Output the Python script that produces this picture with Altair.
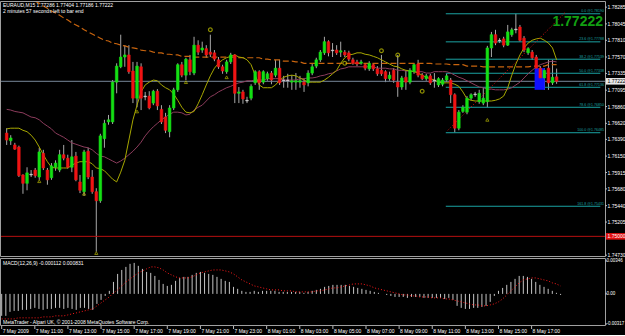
import altair as alt
import pandas as pd

# ---------------- data (EURAUD M15, 7 May 09:00 .. 8 May 18:45) ----------------
opens = [1.7648, 1.7637, 1.7631, 1.7628, 1.7588, 1.7576, 1.7588, 1.7595, 1.7585, 1.7619,
         1.7595, 1.7584, 1.7599, 1.7595, 1.7617, 1.7612, 1.7599, 1.7615, 1.7578, 1.7564,
         1.7622, 1.7585, 1.7564, 1.7551, 1.7640, 1.7664, 1.7664, 1.7721, 1.7743, 1.7757,
         1.7760, 1.7737, 1.7698, 1.7743, 1.7700, 1.7701, 1.7691, 1.7708, 1.7682, 1.7671,
         1.7650, 1.7684, 1.7710, 1.7746, 1.7731, 1.7753, 1.7734, 1.7774, 1.7767, 1.7769,
         1.7764, 1.7763, 1.7753, 1.7743, 1.7736, 1.7750, 1.7760, 1.7705, 1.7707, 1.7694,
         1.7698, 1.7720, 1.7736, 1.7721, 1.7726, 1.7734, 1.7731, 1.7741, 1.7723, 1.7723,
         1.7721, 1.7721, 1.7721, 1.7721, 1.7720, 1.7734, 1.7744, 1.7753, 1.7763, 1.7779,
         1.7766, 1.7767, 1.7764, 1.7764, 1.7763, 1.7753, 1.7750, 1.7748, 1.7746, 1.7740,
         1.7746, 1.7740, 1.7738, 1.7736, 1.7726, 1.7738, 1.7721, 1.7714, 1.7728, 1.7721,
         1.7736, 1.7747, 1.7731, 1.7726, 1.7730, 1.7723, 1.7717, 1.7718, 1.7724, 1.7724,
         1.7703, 1.7655, 1.7679, 1.7678, 1.7698, 1.7703, 1.7693, 1.7691, 1.7693, 1.7770,
         1.7789, 1.7780, 1.7783, 1.7774, 1.7789, 1.7796, 1.7800, 1.7784, 1.7763, 1.7764,
         1.7757, 1.7741, 1.7727, 1.7741, 1.7720, 1.77286]
highs = [1.7655, 1.7645, 1.7634, 1.7630, 1.7589, 1.7599, 1.7595, 1.7598, 1.7627, 1.7624,
         1.7598, 1.7605, 1.7609, 1.7624, 1.7631, 1.7617, 1.7638, 1.7621, 1.7588, 1.7624,
         1.7627, 1.7595, 1.7569, 1.7647, 1.7667, 1.7674, 1.7724, 1.7748, 1.7789, 1.7774,
         1.7774, 1.7750, 1.7750, 1.7748, 1.7707, 1.7708, 1.7710, 1.7711, 1.7688, 1.7677,
         1.7688, 1.7713, 1.7748, 1.7750, 1.7756, 1.7760, 1.7786, 1.7781, 1.7779, 1.7774,
         1.7789, 1.7767, 1.7757, 1.7746, 1.7753, 1.7763, 1.7761, 1.7714, 1.7710, 1.7700,
         1.7718, 1.7738, 1.7738, 1.7738, 1.7736, 1.7737, 1.7753, 1.7753, 1.7730, 1.7733,
         1.7731, 1.7734, 1.7730, 1.7727, 1.7738, 1.7747, 1.7756, 1.7767, 1.7786, 1.7781,
         1.7777, 1.7774, 1.7779, 1.7767, 1.7766, 1.7756, 1.7753, 1.7753, 1.7748, 1.7751,
         1.7748, 1.7744, 1.7760, 1.7738, 1.7736, 1.7741, 1.7760, 1.7730, 1.7738, 1.7741,
         1.7748, 1.7753, 1.7734, 1.7733, 1.7733, 1.7734, 1.7728, 1.7727, 1.7733, 1.7727,
         1.7705, 1.7681, 1.7688, 1.7701, 1.7705, 1.7707, 1.7710, 1.7714, 1.7773, 1.7793,
         1.7796, 1.7784, 1.7786, 1.7803, 1.7799, 1.7819, 1.7803, 1.7787, 1.7771, 1.7767,
         1.7760, 1.7744, 1.7741, 1.7753, 1.7753, 1.77404]
lows = [1.7631, 1.7631, 1.7624, 1.7585, 1.7561, 1.7566, 1.7585, 1.7584, 1.7581, 1.7595,
        1.7574, 1.7581, 1.7594, 1.7592, 1.7609, 1.7597, 1.7592, 1.7579, 1.7562, 1.7558,
        1.7582, 1.7561, 1.7478, 1.7548, 1.7627, 1.7660, 1.7661, 1.7705, 1.7741, 1.7743,
        1.7733, 1.7691, 1.7685, 1.7681, 1.7695, 1.7682, 1.7688, 1.7681, 1.7661, 1.7648,
        1.7642, 1.7681, 1.7707, 1.7728, 1.7724, 1.7731, 1.7731, 1.7760, 1.7763, 1.7756,
        1.7757, 1.7751, 1.7740, 1.7733, 1.7733, 1.7747, 1.7691, 1.7691, 1.7690, 1.7691,
        1.7695, 1.7717, 1.7710, 1.7718, 1.7723, 1.7718, 1.7728, 1.7717, 1.7713, 1.7713,
        1.7710, 1.7710, 1.7713, 1.7707, 1.7715, 1.7731, 1.7741, 1.7750, 1.7760, 1.7758,
        1.7757, 1.7760, 1.7757, 1.7757, 1.7751, 1.7746, 1.7744, 1.7746, 1.7738, 1.7737,
        1.7737, 1.7730, 1.7730, 1.7721, 1.7723, 1.7720, 1.7700, 1.7710, 1.7710, 1.7718,
        1.7733, 1.7728, 1.7724, 1.7723, 1.7717, 1.7713, 1.7714, 1.7715, 1.7721, 1.7691,
        1.7649, 1.7652, 1.7677, 1.7675, 1.7695, 1.7700, 1.7690, 1.7688, 1.7685, 1.7757,
        1.7774, 1.7777, 1.7771, 1.7773, 1.7786, 1.7791, 1.7779, 1.7764, 1.7760, 1.7753,
        1.7738, 1.7717, 1.7710, 1.7710, 1.7717, 1.77186]
closes = [1.7638, 1.7641, 1.7625, 1.7587, 1.7576, 1.7591, 1.7589, 1.7587, 1.7621, 1.7598,
          1.7581, 1.7601, 1.7605, 1.7617, 1.7612, 1.7599, 1.7614, 1.7581, 1.7566, 1.7621,
          1.7585, 1.7564, 1.7551, 1.7644, 1.7662, 1.7667, 1.7721, 1.7744, 1.7757, 1.7760,
          1.7736, 1.7698, 1.7744, 1.7698, 1.7701, 1.7684, 1.7708, 1.7687, 1.7664, 1.7652,
          1.7684, 1.7710, 1.7746, 1.7731, 1.7754, 1.7736, 1.7774, 1.7764, 1.7770, 1.7760,
          1.7761, 1.7754, 1.7743, 1.7737, 1.7750, 1.7760, 1.7705, 1.7707, 1.7697, 1.7695,
          1.7715, 1.7736, 1.7720, 1.7736, 1.7733, 1.7724, 1.7741, 1.7720, 1.7724, 1.7724,
          1.7723, 1.7723, 1.7723, 1.7717, 1.7734, 1.7743, 1.7753, 1.7764, 1.7779, 1.7763,
          1.7767, 1.7763, 1.7766, 1.7760, 1.7754, 1.7748, 1.7747, 1.7750, 1.7741, 1.7748,
          1.7740, 1.7733, 1.7733, 1.7726, 1.7731, 1.7724, 1.7714, 1.7727, 1.7721, 1.7738,
          1.7746, 1.7731, 1.7726, 1.7730, 1.7720, 1.7724, 1.7726, 1.7724, 1.7730, 1.7703,
          1.7655, 1.7678, 1.7685, 1.7698, 1.7703, 1.7704, 1.7705, 1.7698, 1.7770, 1.7789,
          1.7777, 1.7781, 1.7774, 1.7793, 1.7796, 1.7797, 1.7781, 1.7767, 1.7769, 1.7756,
          1.7741, 1.7727, 1.7738, 1.7720, 1.7728, 1.77222]

ma_fast = [1.7654, 1.7655, 1.7655, 1.7655, 1.7652, 1.7650, 1.7645, 1.7638, 1.7628, 1.7617,
           1.7607, 1.7599, 1.7598, 1.7598, 1.7598, 1.7598, 1.7602, 1.7605, 1.7607, 1.7607,
           1.7607, 1.7604, 1.7598, 1.7597, 1.7594, 1.7588, 1.7582, 1.7578, 1.7592, 1.7609,
           1.7638, 1.7667, 1.7688, 1.7707, 1.7717, 1.7721, 1.7724, 1.7723, 1.7717, 1.7713,
           1.7710, 1.7704, 1.7695, 1.7685, 1.7678, 1.7677, 1.7679, 1.7690, 1.7703, 1.7717,
           1.7730, 1.7741, 1.7748, 1.7753, 1.7756, 1.7758, 1.7760, 1.7757, 1.7756, 1.7753,
           1.7746, 1.7731, 1.7717, 1.7713, 1.7713, 1.7713, 1.7717, 1.7724, 1.7728, 1.7730,
           1.7731, 1.7730, 1.7727, 1.7724, 1.7721, 1.7721, 1.7721, 1.7721, 1.7724, 1.7728,
           1.7733, 1.7738, 1.7748, 1.7756, 1.7760, 1.7761, 1.7763, 1.7763, 1.7761, 1.7760,
           1.7758, 1.7756, 1.7753, 1.7750, 1.7747, 1.7744, 1.7743, 1.7740, 1.7738, 1.7737,
           1.7736, 1.7734, 1.7731, 1.7728, 1.7726, 1.7724, 1.7721, 1.7720, 1.7720, 1.7720,
           1.7718, 1.7715, 1.7707, 1.7697, 1.7695, 1.7694, 1.7694, 1.7694, 1.7694, 1.7694,
           1.7695, 1.7697, 1.7701, 1.7713, 1.7731, 1.7747, 1.7760, 1.7770, 1.7777, 1.7781,
           1.7783, 1.7784, 1.7781, 1.7777, 1.7770, 1.7753]
ma_mid = [1.7682, 1.7681, 1.7679, 1.7678, 1.7677, 1.7674, 1.7671, 1.7670, 1.7667, 1.7662,
          1.7658, 1.7654, 1.7648, 1.7645, 1.7642, 1.7638, 1.7634, 1.7632, 1.7630, 1.7628,
          1.7627, 1.7624, 1.7619, 1.7615, 1.7614, 1.7611, 1.7608, 1.7605, 1.7608, 1.7612,
          1.7617, 1.7622, 1.7628, 1.7635, 1.7644, 1.7651, 1.7657, 1.7662, 1.7667, 1.7671,
          1.7675, 1.7678, 1.7678, 1.7677, 1.7674, 1.7675, 1.7681, 1.7685, 1.7688, 1.7694,
          1.7700, 1.7703, 1.7707, 1.7710, 1.7713, 1.7715, 1.7718, 1.7720, 1.7721, 1.7723,
          1.7723, 1.7724, 1.7724, 1.7724, 1.7726, 1.7726, 1.7726, 1.7726, 1.7724, 1.7724,
          1.7724, 1.7724, 1.7726, 1.7726, 1.7727, 1.7727, 1.7728, 1.7730, 1.7731, 1.7733,
          1.7734, 1.7737, 1.7740, 1.7741, 1.7743, 1.7743, 1.7743, 1.7743, 1.7743, 1.7743,
          1.7743, 1.7741, 1.7741, 1.7741, 1.7740, 1.7740, 1.7738, 1.7738, 1.7737, 1.7737,
          1.7736, 1.7736, 1.7736, 1.7734, 1.7734, 1.7736, 1.7736, 1.7736, 1.7736, 1.7734,
          1.7731, 1.7728, 1.7726, 1.7723, 1.7720, 1.7717, 1.7714, 1.7713, 1.7711, 1.7711,
          1.7710, 1.7710, 1.7710, 1.7711, 1.7713, 1.7717, 1.7721, 1.7727, 1.7733, 1.7738,
          1.7743, 1.7746, 1.7748, 1.7750, 1.7751, 1.7750]
ma_slow_first_bar = 7
ma_slow = [1.7837, 1.7834, 1.7830, 1.7827, 1.7823, 1.7820, 1.7817, 1.7813, 1.7810, 1.7806,
           1.7803, 1.7800, 1.7796, 1.7793, 1.7790, 1.7787, 1.7784, 1.7781, 1.7780, 1.7777,
           1.7776, 1.7774, 1.7773, 1.7771, 1.7770, 1.7769, 1.7767, 1.7766, 1.7766, 1.7764,
           1.7763, 1.7763, 1.7761, 1.7761, 1.7760, 1.7760, 1.7758, 1.7758, 1.7758, 1.7757,
           1.7757, 1.7757, 1.7757, 1.7757, 1.7757, 1.7757, 1.7757, 1.7757, 1.7757, 1.7757,
           1.7756, 1.7756, 1.7756, 1.7756, 1.7756, 1.7756, 1.7754, 1.7754, 1.7753, 1.7753,
           1.7753, 1.7751, 1.7751, 1.7751, 1.7750, 1.7750, 1.7748, 1.7748, 1.7748, 1.7748,
           1.7748, 1.7748, 1.7748, 1.7748, 1.7748, 1.7748, 1.7748, 1.7748, 1.7748, 1.7748,
           1.7748, 1.7748, 1.7748, 1.7748, 1.7748, 1.7748, 1.7748, 1.7748, 1.7748, 1.7748,
           1.7748, 1.7748, 1.7748, 1.7748, 1.7748, 1.7748, 1.7748, 1.7748, 1.7747, 1.7747,
           1.7747, 1.7747, 1.7746, 1.7746, 1.7746, 1.7746, 1.7744, 1.7744, 1.7744, 1.7744,
           1.7743, 1.7743, 1.7743, 1.7743, 1.7743, 1.7743, 1.7743, 1.7743, 1.7743, 1.7743,
           1.7743, 1.7743, 1.7744, 1.7744, 1.7744, 1.7744, 1.7746, 1.7746, 1.7746]

macd_main = [-0.00231, -0.00231, -0.00189, -0.00179, -0.00179, -0.00168, -0.00168, -0.00158, -0.00147, -0.00158,
             -0.00168, -0.00158, -0.00158, -0.00147, -0.00147, -0.00158, -0.00147, -0.00158, -0.00168, -0.00147,
             -0.00147, -0.00158, -0.00168, -0.00105, -0.00063, -0.00021, 0.00032, 0.00126, 0.00210, 0.00252,
             0.00284, 0.00316, 0.00326, 0.00295, 0.00263, 0.00231, 0.00221, 0.00189, 0.00147, 0.00105,
             0.00084, 0.00095, 0.00137, 0.00168, 0.00179, 0.00179, 0.00200, 0.00221, 0.00231, 0.00221,
             0.00210, 0.00200, 0.00179, 0.00158, 0.00137, 0.00126, 0.00074, 0.00053, 0.00032, 0.00021,
             0.00021, 0.00032, 0.00021, 0.00032, 0.00032, 0.00032, 0.00032, 0.00021, 0.00021, 0.00021,
             0.00021, 0.00021, 0.00021, 0.00011, 0.00021, 0.00032, 0.00042, 0.00053, 0.00074, 0.00084,
             0.00095, 0.00095, 0.00095, 0.00095, 0.00084, 0.00074, 0.00063, 0.00053, 0.00042, 0.00032,
             0.00021, 0.00011, 0.0, -0.00011, -0.00021, -0.00032, -0.00032, -0.00032, -0.00042, -0.00032,
             -0.00032, -0.00032, -0.00042, -0.00042, -0.00042, -0.00042, -0.00042, -0.00053, -0.00042, -0.00063,
             -0.00126, -0.00147, -0.00158, -0.00158, -0.00147, -0.00147, -0.00137, -0.00126, -0.00084, -0.00021,
             0.00032, 0.00063, 0.00095, 0.00126, 0.00158, 0.00189, 0.00189, 0.00179, 0.00158, 0.00126,
             0.00095, 0.00074, 0.00053, 0.00032, 0.00011, -0.000112]
macd_signal = [-0.00263, -0.00263, -0.00263, -0.00263, -0.00252, -0.00252, -0.00252, -0.00252, -0.00252, -0.00252,
               -0.00242, -0.00242, -0.00242, -0.00231, -0.00231, -0.00231, -0.00221, -0.00210, -0.00200, -0.00189,
               -0.00179, -0.00168, -0.00158, -0.00126, -0.00095, -0.00063, -0.00032, 0.00011, 0.00042, 0.00084,
               0.00126, 0.00158, 0.00189, 0.00221, 0.00242, 0.00263, 0.00284, 0.00284, 0.00274, 0.00252,
               0.00221, 0.00200, 0.00179, 0.00168, 0.00168, 0.00168, 0.00179, 0.00200, 0.00221, 0.00231,
               0.00242, 0.00252, 0.00252, 0.00252, 0.00242, 0.00231, 0.00210, 0.00179, 0.00147, 0.00126,
               0.00105, 0.00084, 0.00074, 0.00063, 0.00053, 0.00042, 0.00042, 0.00042, 0.00032, 0.00032,
               0.00032, 0.00021, 0.00021, 0.00021, 0.00021, 0.00021, 0.00032, 0.00032, 0.00042, 0.00053,
               0.00063, 0.00063, 0.00074, 0.00084, 0.00095, 0.00105, 0.00105, 0.00105, 0.00095, 0.00084,
               0.00063, 0.00053, 0.00042, 0.00032, 0.00021, 0.00011, 0.0, -0.00011, -0.00011, -0.00021,
               -0.00021, -0.00032, -0.00032, -0.00032, -0.00042, -0.00042, -0.00042, -0.00053, -0.00053, -0.00063,
               -0.00074, -0.00084, -0.00095, -0.00105, -0.00116, -0.00116, -0.00126, -0.00126, -0.00116, -0.00105,
               -0.00084, -0.00053, -0.00011, 0.00032, 0.00074, 0.00116, 0.00147, 0.00158, 0.00168, 0.00168,
               0.00158, 0.00147, 0.00137, 0.00116, 0.00105, 0.000831]

time_label_bars = [0, 8, 16, 24, 32, 40, 48, 56, 64, 72, 80, 88, 96, 104, 112, 120, 128]
time_labels = ["7 May 2009", "7 May 11:00", "7 May 13:00", "7 May 15:00", "7 May 17:00",
               "7 May 19:00", "7 May 21:00", "7 May 23:00", "8 May 01:00", "8 May 03:00",
               "8 May 05:00", "8 May 07:00", "8 May 09:00", "8 May 11:00", "8 May 13:00",
               "8 May 15:00", "8 May 17:00"]
price_ticks = [1.78285, 1.78045, 1.77810, 1.77570, 1.77335, 1.77095, 1.76860, 1.76620,
               1.76390, 1.76150, 1.75915, 1.75680, 1.75440, 1.75205, 1.74730]
macd_ticks = [0.00346, 0.0, -0.00317]
macd_tick_labels = ["0.00346", "0.00", "-0.00317"]

fib_levels = [0.0, 23.6, 38.2, 50.0, 61.8, 78.6, 100.0, 161.8]
fib_price_0 = 1.78190
fib_price_100 = 1.76485
fib_start_bar = 107.8

bid_price = closes[-1]
level_line_price = 1.75000
trend_bars = [108.3, 137.3]
trend_prices = [1.7652, 1.7822]
box_bars = [129.6, 132.1]
box_prices = [1.7710, 1.7741]
circle_bars = [50, 83, 92, 96, 102]
circle_prices = [1.7796, 1.7748, 1.7766, 1.7760, 1.7708]
arrow_bars = [8, 19, 22, 32, 44, 54, 118]
arrow_prices = [1.7579, 1.7561, 1.7476, 1.7679, 1.7721, 1.7728, 1.7667]

header_line1 = f"EURAUD,M15  {opens[-1]:.5f} {highs[-1]:.5f} {lows[-1]:.5f} {closes[-1]:.5f}"
header_line2 = "2 minutes 57 seconds left to bar end"
macd_title = f"MACD(12,26,9) {macd_main[-1]:.6f} {macd_signal[-1]:.6f}"
copyright_text = "MetaTrader - Alpari UK, \u00a9 2001-2008 MetaQuotes Software Corp."

# ---------------- layout ----------------
N = len(opens)
bars = list(range(N))
VIEW_W = 625          # whole width; the price scale column lives inside the view
PLOT_W = 605          # chart frame width
H_MAIN = 256
H_MACD_FRAME = 68
H_MACD = 77           # frame + time-label strip
PX_PER_BAR = 605 / 146.14
X_DOMAIN = [-0.41, -0.41 + VIEW_W / PX_PER_BAR]
FIB_END = -0.41 + PLOT_W / PX_PER_BAR
xs = alt.Scale(domain=X_DOMAIN, nice=False, zero=False)
ys = alt.Scale(domain=[1.74704, 1.78373], nice=False, zero=False)
ms = alt.Scale(domain=[-0.004324, 0.003776], nice=False, zero=False)
FONT = "Liberation Sans"
UP, DOWN, FLAT = "#14e014", "#f01414", "#d0d0d0"
AXIS_GRAY = "#b8b8b8"
FRAME = "#a0a0a0"


def cls(o, c):
    if c - o > 0.00012:
        return "up"
    if o - c > 0.00012:
        return "down"
    return "flat"


candles = pd.DataFrame({"bar": bars, "open": opens, "high": highs, "low": lows, "close": closes})
candles["dir"] = [cls(o, c) for o, c in zip(opens, closes)]


def X(field="bar"):
    return alt.X(f"{field}:Q", scale=xs, axis=None)


def YP(field):
    return alt.Y(f"{field}:Q", scale=ys, axis=None)


def YM(field):
    return alt.Y(f"{field}:Q", scale=ms, axis=None)


def frame(h):
    df = pd.DataFrame({"k": ["frame"]})
    return alt.Chart(df).mark_rect(filled=False, stroke=FRAME, strokeWidth=1).encode(
        x=alt.value(0.5), x2=alt.value(PLOT_W + 0.5), y=alt.value(0.5), y2=alt.value(h - 0.5))


wicks = alt.Chart(candles).mark_rule(color="#a8a8a8", strokeWidth=1, clip=True).encode(
    x=X(), y=YP("low"), y2="high")

dir_scale = alt.Scale(domain=["up", "down", "flat"], range=[UP, DOWN, FLAT])
bodies = alt.Chart(candles).mark_bar(size=2.6, strokeWidth=0.6, clip=True).encode(
    x=X(), y=YP("open"), y2="close",
    color=alt.Color("dir:N", scale=dir_scale, legend=None),
    stroke=alt.Stroke("dir:N", scale=dir_scale, legend=None))

fast_df = pd.DataFrame({"bar": bars, "v": ma_fast})
mid_df = pd.DataFrame({"bar": bars, "v": ma_mid})
slow_df = pd.DataFrame({"bar": list(range(ma_slow_first_bar, ma_slow_first_bar + len(ma_slow))), "v": ma_slow})

line_fast = alt.Chart(fast_df).mark_line(color="#a8a800", strokeWidth=1, clip=True).encode(x=X(), y=YP("v"))
line_mid = alt.Chart(mid_df).mark_line(color="#8c3c5c", strokeWidth=1, clip=True).encode(x=X(), y=YP("v"))
line_slow = alt.Chart(slow_df).mark_line(color="#c8640e", strokeWidth=1.2, strokeDash=[6, 3],
                                         clip=True).encode(x=X(), y=YP("v"))

fib_df = pd.DataFrame({"level": fib_levels})
fib_df["price"] = [fib_price_0 - l / 100.0 * (fib_price_0 - fib_price_100) for l in fib_levels]
fib_df["start"] = fib_start_bar
fib_df["end"] = FIB_END
fib_df["label"] = [f"{l:.1f} @{p:.5f}" for l, p in zip(fib_levels, fib_df["price"])]
FIB = "#1aa3a3"
fib_lines = alt.Chart(fib_df).mark_rule(color=FIB, strokeWidth=1, clip=True).encode(
    x=X("start"), x2="end", y=YP("price"))
fib_text = alt.Chart(fib_df).mark_text(align="right", baseline="bottom", dy=-0.5, fontSize=3.6,
                                       font=FONT, color=FIB, clip=True).encode(
    x=alt.value(PLOT_W - 1), y=YP("price"), text="label:N")

hl_df = pd.DataFrame({"price": [bid_price, level_line_price], "c": ["#778899", "#b81010"]})
hlines = alt.Chart(hl_df).mark_rule(strokeWidth=1, clip=True).encode(
    x=alt.value(0), x2=alt.value(PLOT_W), y=YP("price"), color=alt.Color("c:N", scale=None))

trend_df = pd.DataFrame({"bar": trend_bars, "v": trend_prices})
trend = alt.Chart(trend_df).mark_line(color="#e01010", strokeWidth=1, strokeDash=[1, 2], clip=True).encode(
    x=X(), y=YP("v"))

box_df = pd.DataFrame({"x1": [box_bars[0]], "x2": [box_bars[1]], "y1": [box_prices[0]], "y2": [box_prices[1]]})
box = alt.Chart(box_df).mark_rect(color="#1010ff", clip=True).encode(
    x=X("x1"), x2="x2", y=YP("y1"), y2="y2")

circ_df = pd.DataFrame({"bar": circle_bars, "v": circle_prices})
circles = alt.Chart(circ_df).mark_point(shape="circle", size=14, filled=False, color="#c8c800",
                                        strokeWidth=1.2, clip=True).encode(x=X(), y=YP("v"))
arr_df = pd.DataFrame({"bar": arrow_bars, "v": arrow_prices})
arrows = alt.Chart(arr_df).mark_point(shape="triangle-up", size=10, filled=False, color="#c8c800",
                                      strokeWidth=0.9, clip=True).encode(x=X(), y=YP("v"))


def label_layer(text, x, y, size=5, color="white", align="left", weight="normal"):
    df = pd.DataFrame({"t": [text]})
    return alt.Chart(df).mark_text(align=align, baseline="middle", fontSize=size, font=FONT,
                                   color=color, fontWeight=weight, clip=True).encode(
        x=alt.value(x), y=alt.value(y), text="t:N")


hdr1 = label_layer(header_line1, 3, 4)
hdr2 = label_layer(header_line2, 3, 10)
big = label_layer(f"{bid_price:.5f}", PLOT_W - 2, 21, size=14, color="#12a012", align="right", weight="bold")

# right price scale drawn as marks (ticks + labels), clipped at the window edge
pt_df = pd.DataFrame({"price": price_ticks, "label": [f"{p:.5f}" for p in price_ticks]})
p_ticks = alt.Chart(pt_df).mark_rule(color=AXIS_GRAY, strokeWidth=1, clip=True).encode(
    x=alt.value(PLOT_W), x2=alt.value(PLOT_W + 2), y=YP("price"))
p_labels = alt.Chart(pt_df).mark_text(align="left", baseline="middle", fontSize=5, font=FONT,
                                      color="white", clip=True).encode(
    x=alt.value(PLOT_W + 2.5), y=YP("price"), text="label:N")

tag_df = pd.DataFrame({"price": [bid_price, level_line_price],
                       "bg": ["#e8e8e8", "#e01010"], "fg": ["#000000", "#ffffff"]})
tag_df["lo"] = tag_df["price"] - 0.00047
tag_df["hi"] = tag_df["price"] + 0.00047
tag_df["label"] = [f"{p:.5f}" for p in tag_df["price"]]
tags = alt.Chart(tag_df).mark_rect(clip=True).encode(
    x=alt.value(PLOT_W + 1), x2=alt.value(VIEW_W), y=YP("lo"), y2="hi", color=alt.Color("bg:N", scale=None))
tag_text = alt.Chart(tag_df).mark_text(align="left", baseline="middle", fontSize=5, font=FONT,
                                       clip=True).encode(
    x=alt.value(PLOT_W + 2.5), y=YP("price"), text="label:N", color=alt.Color("fg:N", scale=None))

main = alt.layer(wicks, fib_lines, hlines, box, line_slow, line_mid, line_fast, trend, bodies,
                 circles, arrows, fib_text, hdr1, hdr2, big, frame(H_MAIN), p_ticks, p_labels, tags, tag_text
                 ).properties(width=VIEW_W, height=H_MAIN)

# ---------------- MACD panel ----------------
macd_df = pd.DataFrame({"bar": bars, "main": macd_main, "signal": macd_signal, "zero": 0.0})

hist = alt.Chart(macd_df).mark_rule(color="#c4c4c4", strokeWidth=1, clip=True).encode(
    x=X(), y=YM("zero"), y2="main")
sig = alt.Chart(macd_df).mark_line(color="#ff1a1a", strokeWidth=1, strokeDash=[1, 2], clip=True).encode(
    x=X(), y=YM("signal"))

mt_df = pd.DataFrame({"v": macd_ticks, "label": macd_tick_labels})
m_ticks = alt.Chart(mt_df).mark_rule(color=AXIS_GRAY, strokeWidth=1, clip=True).encode(
    x=alt.value(PLOT_W), x2=alt.value(PLOT_W + 2), y=YM("v"))
m_labels = alt.Chart(mt_df).mark_text(align="left", baseline="middle", fontSize=4.5, font=FONT,
                                      color="white", clip=True).encode(
    x=alt.value(PLOT_W + 1.5), y=YM("v"), text="label:N")

tl_df = pd.DataFrame({"bar": time_label_bars, "label": time_labels})
t_ticks = alt.Chart(tl_df).mark_rule(color=AXIS_GRAY, strokeWidth=1, clip=True).encode(
    x=X(), y=alt.value(H_MACD_FRAME), y2=alt.value(H_MACD_FRAME + 3))
t_labels = alt.Chart(tl_df).mark_text(align="left", baseline="top", dx=1, fontSize=5, font=FONT,
                                      color="white", clip=True).encode(
    x=X(), y=alt.value(H_MACD_FRAME + 3), text="label:N")

mt1 = label_layer(macd_title, 3, 5)
mt2 = label_layer(copyright_text, 3, 64)

macd = alt.layer(hist, sig, mt1, mt2, frame(H_MACD_FRAME), m_ticks, m_labels, t_ticks, t_labels
                 ).properties(width=VIEW_W, height=H_MACD)

chart = alt.vconcat(main, macd, spacing=1).properties(
    padding={"left": 0, "top": 1, "right": 0, "bottom": 0}, background="black"
).configure_view(stroke="transparent", strokeWidth=0)

chart.save("out.html", embed_options={"renderer": "svg", "actions": False})
